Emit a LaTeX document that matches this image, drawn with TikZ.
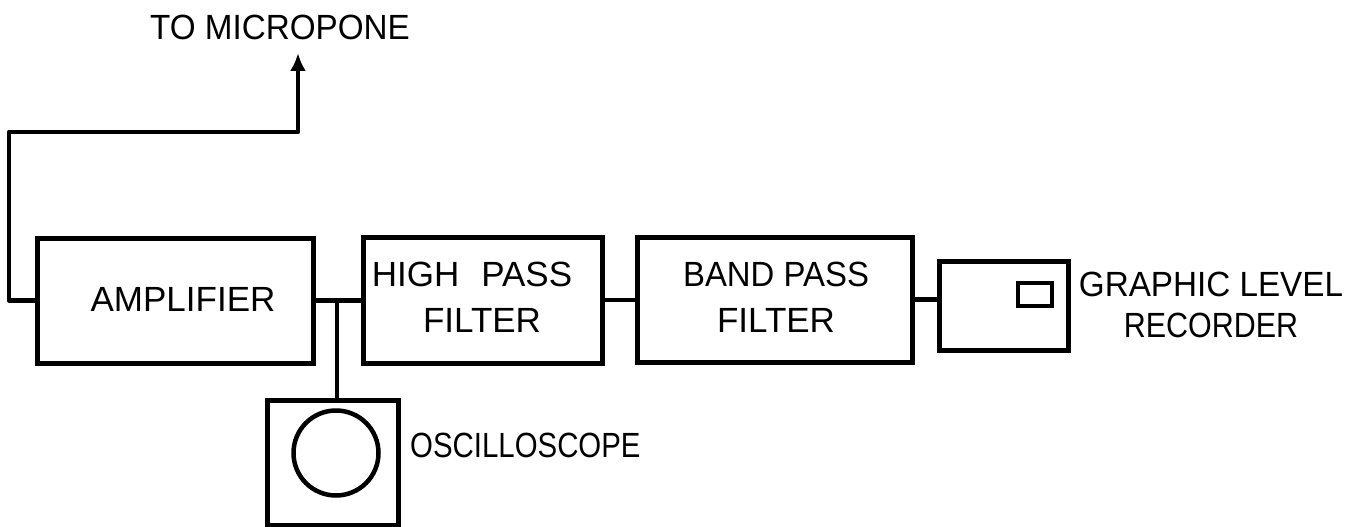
\documentclass[tikz,border=0pt]{standalone}
\usepackage{fontspec}
\setmainfont{Liberation Sans}
\usetikzlibrary{arrows.meta}
\tikzset{
  blk/.style={draw, line width=5pt, inner sep=0pt, align=center},
  wire/.style={line width=4.5pt},
  lbl/.style={inner sep=0pt, align=center, font=\fontsize{35}{46}\selectfont},
}
\begin{document}
\begin{tikzpicture}[x=1pt,y=-1pt]
\useasboundingbox (0,0) rectangle (1369,527);
% blocks
\node[blk, minimum width=276pt, minimum height=125pt] (amp) at (175,300.5) {};
\node[lbl] (ampt) at (183,299) {AMPLIFIER};
\node[blk, minimum width=239pt, minimum height=126pt] (hpf) at (482.5,300) {};
\node[lbl] (hpft) at (472,297) {HIGH\hspace*{22pt}PASS\\\hspace*{20pt}FILTER};
\node[blk, minimum width=275pt, minimum height=125pt] (bpf) at (774.5,299.5) {};
\node[lbl] (bpft) at (776,297) {\scalebox{0.94}[1]{BAND PASS}\\FILTER};
\node[blk, minimum width=129pt, minimum height=89pt] (glr) at (1003.5,305.5) {};
\node[blk, minimum width=34pt, minimum height=23pt, line width=4.5pt] (win) at (1035,294.5) {};
\node[lbl, font=\fontsize{35}{41}\selectfont] (glrt) at (1211,305) {\scalebox{0.95}[1]{GRAPHIC LEVEL}\\\scalebox{0.87}[1]{RECORDER}};
\node[blk, minimum width=131pt, minimum height=125pt] (osc) at (332.5,462.5) {};
\draw[line width=4.5pt] (336,453) circle[radius=42.5pt];
\node[lbl, anchor=west] (osct) at (410,445) {\scalebox{0.84}[1]{OSCILLOSCOPE}};
\node[lbl] (mict) at (280,27.5) {\scalebox{0.95}[1]{TO MICROPONE}};
% connectors
\coordinate (c1) at (9,132);
\coordinate (mic) at (298,53);
\coordinate (j) at (337,300);
\draw[wire, line join=round, -{Latex[length=18pt,width=16pt]}] (amp.west) -| (c1) -| (mic);
\draw[wire] (amp.east) -- (amp.east -| hpf.west);
\draw[wire] (j) -- (j |- osc.north);
\draw[wire] (hpf.east) -- (hpf.east -| bpf.west);
\draw[wire] (bpf.east) -- (bpf.east -| glr.west);
\end{tikzpicture}
\end{document}
